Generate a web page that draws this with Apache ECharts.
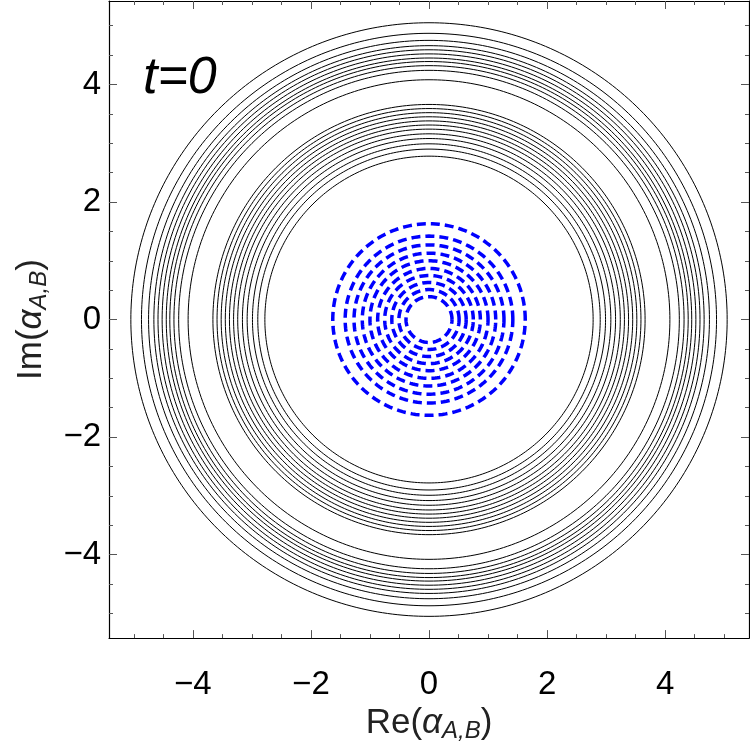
<!DOCTYPE html>
<html><head><meta charset="utf-8">
<script src="https://cdn.jsdelivr.net/npm/echarts@6/dist/echarts.min.js"></script>
<style>html,body{margin:0;padding:0;background:#fff}#c{width:750px;height:748px}</style>
</head><body><div id="c"></div>
<script>
// contour radii (units of |alpha|)
const blackRadii = [2.78, 2.90, 2.99, 3.08, 3.16, 3.24, 3.31, 3.38, 3.45, 3.52, 3.59, 3.66,
                    4.08, 4.24, 4.32, 4.39, 4.45, 4.52, 4.59, 4.66, 4.75, 4.87, 5.05];
const blueRadii = [0.39, 0.51, 0.63, 0.75, 0.87, 1.00, 1.13, 1.27, 1.42, 1.63];
const majorTicks = [-4, -2, 0, 2, 4];
const minorTicks = [-5, -4.5, -3.5, -3, -2.5, -1.5, -1, -0.5, 0.5, 1, 1.5, 2.5, 3, 3.5, 4.5, 5];
const tickLabels = majorTicks;
const axisMin = -5.42, axisMax = 5.42;

function circle(r) {
  const pts = [];
  for (let i = 0; i <= 360; i++) {
    const a = i * Math.PI / 180;
    pts.push([r * Math.cos(a), r * Math.sin(a)]);
  }
  return pts;
}
const fmt = v => (v < 0 ? '\u2212' + Math.abs(v) : String(v));
const FONT = 'Liberation Sans';

function mkAxis(pos, ticks, len, isMain, nameStr) {
  return {
    type: 'value', position: pos, min: axisMin, max: axisMax,
    splitLine: { show: false },
    axisLine: { show: isMain, onZero: false, lineStyle: { color: '#000', width: 1.2 } },
    axisTick: { show: true, inside: true, length: len, customValues: ticks,
                lineStyle: { color: '#555', width: 1 } },
    axisLabel: { show: isMain && (pos === 'bottom' || pos === 'left'), customValues: tickLabels,
                 formatter: fmt, fontFamily: FONT, fontSize: 33, color: '#000',
                 margin: (pos === 'bottom') ? 30 : 8 },
    name: nameStr || '', nameLocation: 'middle',
    nameGap: pos === 'bottom' ? 56 : 58,
    nameTextStyle: {
      fontFamily: FONT, fontSize: 35, color: '#222',
      rich: {
        n: { fontFamily: FONT, fontSize: 35, color: '#222' },
        a: { fontFamily: FONT, fontSize: 35, fontStyle: 'italic', color: '#222' },
        s: { fontFamily: FONT, fontSize: 24, fontStyle: 'italic', color: '#222', padding: [15, 0, 0, 0] }
      }
    }
  };
}

const series = [];
blackRadii.forEach(r => series.push({
  type: 'line', data: circle(r), showSymbol: false, silent: true, animation: false,
  lineStyle: { color: '#000', width: 1 }, xAxisIndex: 0, yAxisIndex: 0
}));
blueRadii.forEach(r => series.push({
  type: 'line', data: circle(r), showSymbol: false, silent: true, animation: false,
  lineStyle: { color: '#0000ff', width: 3.5, type: [9, 5] }, xAxisIndex: 0, yAxisIndex: 0
}));

const chart = echarts.init(document.getElementById('c'), null, { renderer: 'canvas' });
chart.setOption({
  animation: false,
  backgroundColor: '#fff',
  title: { text: 't=0', left: 138, top: 48,
           textStyle: { fontFamily: FONT, fontSize: 52, fontStyle: 'italic', fontWeight: 'normal', color: '#000' } },
  grid: { left: 109, right: 1, top: 1, bottom: 108, containLabel: false },
  xAxis: [
    mkAxis('bottom', majorTicks, 8, true, '{n|Re(}{a|\u03b1}{s|A,B}{n|)}'),
    mkAxis('bottom', minorTicks, 4, false),
    mkAxis('top', majorTicks, 8, true),
    mkAxis('top', minorTicks, 4, false)
  ],
  yAxis: [
    mkAxis('left', majorTicks, 8, true, '{n|Im(}{a|\u03b1}{s|A,B}{n|)}'),
    mkAxis('left', minorTicks, 4, false),
    mkAxis('right', majorTicks, 8, true),
    mkAxis('right', minorTicks, 4, false)
  ],
  series: series
});
</script></body></html>
